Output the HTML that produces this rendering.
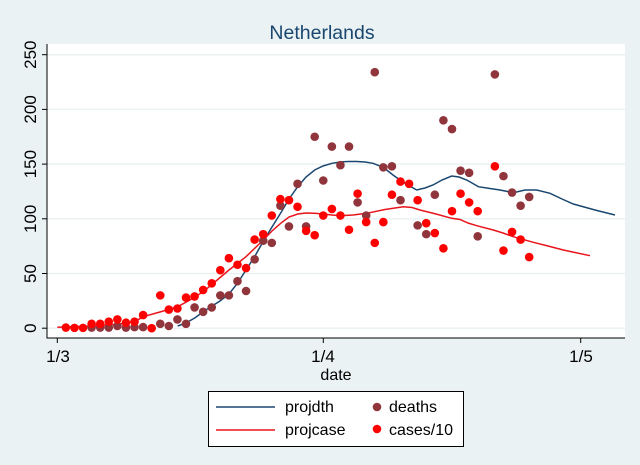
<!DOCTYPE html>
<html><head><meta charset="utf-8"><style>
html,body{margin:0;padding:0;background:#eaf2f3;}
svg{display:block;font-family:"Liberation Sans",Arial,sans-serif;}
</style></head><body>
<svg id="s" width="640" height="465" viewBox="0 0 640 465" xmlns="http://www.w3.org/2000/svg">
<rect x="0" y="0" width="640" height="465" fill="#eaf2f3"/>
<text x="322" y="39" font-size="19.5" fill="#1a476f" text-anchor="middle">Netherlands</text>
<rect x="47" y="44" width="578" height="294" fill="#ffffff"/>
<g stroke="#eaf2f3" stroke-width="1.5">
<line x1="47" x2="625" y1="54.7" y2="54.7"/>
<line x1="47" x2="625" y1="109.4" y2="109.4"/>
<line x1="47" x2="625" y1="164.1" y2="164.1"/>
<line x1="47" x2="625" y1="218.8" y2="218.8"/>
<line x1="47" x2="625" y1="273.5" y2="273.5"/>
<line x1="47" x2="625" y1="328.2" y2="328.2"/>
</g>
<g stroke="#000" stroke-width="1">
<line x1="47" y1="44" x2="47" y2="338.5"/>
<line x1="47" y1="338" x2="625" y2="338"/>
<line x1="42" x2="47" y1="54.7" y2="54.7"/>
<line x1="42" x2="47" y1="109.4" y2="109.4"/>
<line x1="42" x2="47" y1="164.1" y2="164.1"/>
<line x1="42" x2="47" y1="218.8" y2="218.8"/>
<line x1="42" x2="47" y1="273.5" y2="273.5"/>
<line x1="42" x2="47" y1="328.2" y2="328.2"/>
<line x1="57.3" x2="57.3" y1="338" y2="343"/>
<line x1="323.3" x2="323.3" y1="338" y2="343"/>
<line x1="580.7" x2="580.7" y1="338" y2="343"/>
</g>
<g font-size="17" fill="#000" text-anchor="middle">
<text transform="translate(36,54.7) rotate(-90)">250</text>
<text transform="translate(36,109.4) rotate(-90)">200</text>
<text transform="translate(36,164.1) rotate(-90)">150</text>
<text transform="translate(36,218.8) rotate(-90)">100</text>
<text transform="translate(36,273.5) rotate(-90)">50</text>
<text transform="translate(36,328.2) rotate(-90)">0</text>
<text x="58" y="362">1/3</text>
<text x="323" y="362">1/4</text>
<text x="581" y="362">1/5</text>
</g>
<text x="336" y="380" font-size="16" text-anchor="middle">date</text>
<polyline fill="none" stroke="#1a476f" stroke-width="1.5" points="177.7,326 186,323 194.7,318 203,312 212,306 220,301 229,294 237.7,283 246,270 255,256 263,241.7 272,227 280.7,213 289,199 297.7,186.7 306,177 314.7,170 323,166 332,163.3 340,162 348,161.5 356.7,161.5 365,162 373,163.3 380,166 386.7,170 393,175 400,180 408,185 416.7,190 425,188 433,185 442,180 451.7,176 459,177 466.7,180 472,183 478.3,186.7 490,188.5 500,190 513.3,192.7 525,190 536.7,190 550,193.3 562,199 573.3,204 595,210 615,215"/>
<polyline fill="none" stroke="#e8141c" stroke-width="1.5" points="57.3,327.3 93,326 120,324 134.7,321.7 143.3,316.7 160,312 177.7,306.7 190,300 203.3,291.7 216,281 229,270 238,263 246,256.7 255,248 263.3,240 272,231 280.7,223.3 289,217 297.7,214 306,213 314.7,213.3 323,214 332,215 340,215.7 353,215 366.7,213.3 385,209.5 403.3,206.7 412,207.5 420,210 436,214 451.7,218.3 460,219.5 468,223 476.7,225.7 493.3,230 503,233 513.3,236.7 533.3,242.3 548,246 563.3,250 590,255.7"/>
<g id="d"></g>
<rect x="208.5" y="391.5" width="255" height="55" fill="#fff" stroke="#000" stroke-width="1"/>
<line x1="216" x2="275" y1="407" y2="407" stroke="#1a476f" stroke-width="1.5"/>
<line x1="216" x2="275" y1="430" y2="430" stroke="#e8141c" stroke-width="1.5"/>
<circle cx="377" cy="407" r="4.3" fill="#90353b"/>
<circle cx="377" cy="429" r="4.3" fill="#ff0000"/>
<g font-size="16" fill="#000">
<text x="285" y="412">projdth</text>
<text x="285" y="435">projcase</text>
<text x="389" y="412">deaths</text>
<text x="389" y="435">cases/10</text>
</g>
</svg>
<script>
var deaths={4:0.6,5:0.6,6:0.6,7:2,8:0.6,9:1,10:1,12:4,13:2,14:8,15:4,16:19,17:15,18:19,19:30,20:30,21:43,22:34,23:63,24:80,25:78,26:112,27:93,28:132,29:93,30:175,31:135,32:166,33:149,34:166,35:115,36:103,37:234,38:147,39:148,40:117,42:94,43:86,44:122,45:190,46:182,47:144,48:142,49:84,51:232,52:139,53:124,54:112,55:120};
var cases={1:0.6,2:0.3,3:0.3,4:4,5:4,6:6,7:8,8:5,9:6,10:12,11:0,12:30,13:17,14:18,15:28,16:29,17:35,18:41,19:53,20:64,21:58,22:55,23:81,24:86,25:103,26:118,27:117,28:111,29:89,30:85,31:103,32:109,33:103,34:90,35:123,36:97,37:78,38:97,39:122,40:134,41:132,42:117,43:96,44:87,45:73,46:107,47:123,48:115,49:107,51:148,52:71,53:88,54:81,55:65};
var g=document.getElementById('d'),ns="http://www.w3.org/2000/svg";
function add(o,c){for(var k in o){var e=document.createElementNS(ns,'circle');e.setAttribute('cx',57.3+8.58*k);e.setAttribute('cy',328.2-o[k]*1.094);e.setAttribute('r',4.3);e.setAttribute('fill',c);g.appendChild(e);}}
add(deaths,'#90353b');add(cases,'#ff0000');
</script>
</body></html>
